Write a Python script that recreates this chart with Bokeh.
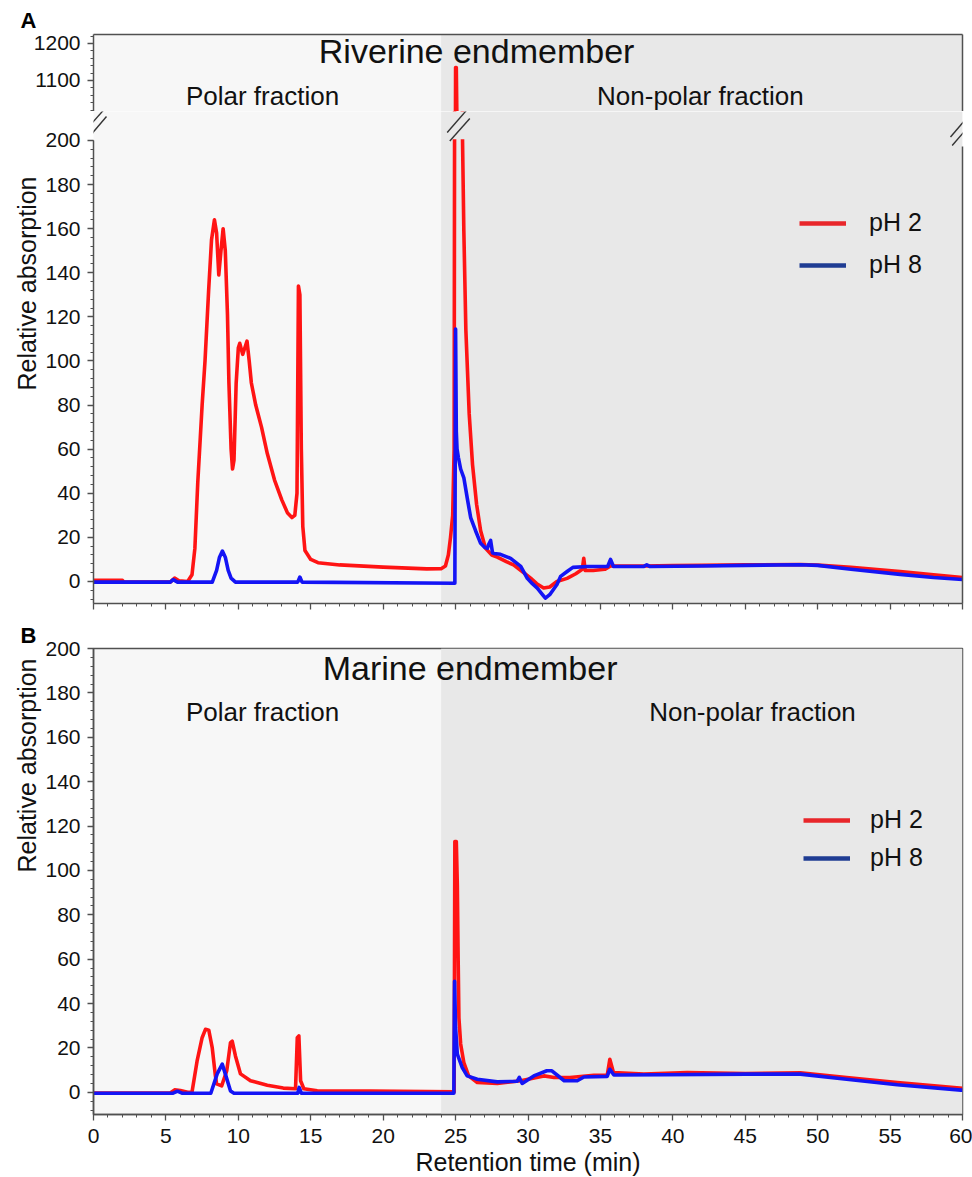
import math
from bokeh.plotting import figure
from bokeh.layouts import column
from bokeh.models import (Range1d, LinearAxis, SingleIntervalTicker, BoxAnnotation,
                          Label, Legend, LegendItem, Arrow, ColumnDataSource, Title)
from bokeh.embed import file_html
from bokeh.resources import INLINE

# ---------------- data ----------------
A_red_t = [0, 2.0, 2.1, 5.3, 5.6, 5.9, 6.5, 6.8, 7.0, 7.2, 7.5, 7.7, 7.95, 8.15, 8.35, 8.5, 8.65, 8.8,
           8.95, 9.1, 9.25, 9.35, 9.5, 9.6, 9.7, 9.85, 10.0, 10.1, 10.3, 10.45, 10.6, 10.75, 10.9, 11.2,
           11.6, 12.0, 12.5, 13.0, 13.4, 13.7, 13.9, 14.05, 14.15, 14.25, 14.35, 14.45, 14.6, 15.0, 15.5,
           17.0, 20.0, 23.0, 24.0, 24.3, 24.5, 24.65, 24.8, 24.9, 24.95, 25.0, 25.05, 25.12, 25.3, 25.48,
           25.57, 25.71, 25.94, 26.17, 26.45, 26.73, 27.07, 27.5, 27.88, 28.5, 29.0, 29.6, 30.18, 30.6,
           31.08, 31.5, 32.0, 32.7, 33.3, 33.75, 33.85, 33.95, 34.5, 35.3, 35.7, 36.0, 38, 40, 42, 45,
           48.8, 50, 52.3, 55.7, 58, 60]
A_red_y = [0.5, 0.5, -0.3, -0.3, 1.5, 0.3, 0, 3, 15, 45, 80, 100, 132, 155, 164, 158, 139, 150,
           160, 150, 121, 90, 60, 51, 55, 90, 106, 108, 103, 106, 109, 100, 90, 80,
           70, 58, 46, 37, 31, 29, 30, 40, 134, 130, 60, 25, 14, 10, 8.5,
           7.5, 6.5, 5.7, 5.8, 7, 12, 20, 30, 60, 300, 1135, 1135, 900, 400, 200,
           159, 114, 76, 53, 35, 23, 15, 12, 11, 9, 7.5, 4.5, 1.5, -1,
           -3, -2.5, 0, 1.4, 3.5, 5.5, 10.5, 5, 5, 5.5, 7, 7, 7, 7.2, 7.3, 7.5,
           7.7, 7.4, 6.4, 4.5, 3, 1.8]

A_blue_t = [0, 5.3, 5.5, 5.8, 8.2, 8.5, 8.7, 8.9, 9.1, 9.3, 9.5, 9.8, 14.1, 14.25, 14.4, 24.95, 25.0,
            25.05, 25.1, 25.2, 25.35, 25.57, 25.8, 26.04, 26.38, 26.73, 27.0, 27.19, 27.3, 27.42, 27.55,
            27.65, 28.1, 28.8, 29.5, 29.95, 30.3, 30.64, 31.0, 31.2, 31.5, 32.0, 32.25, 32.7, 33.1, 34.1,
            35.5, 35.7, 35.9, 38.0, 38.2, 38.4, 42, 45, 48.8, 50, 52.3, 55.7, 58, 60]
A_blue_y = [-0.3, -0.3, 0.8, -0.3, -0.3, 5, 11, 13.8, 11, 5, 1.5, -0.3, -0.3, 2, -0.3, -0.8, 114.5,
            68, 60, 56, 51, 47, 38, 29, 23, 17.3, 15.5, 15, 17, 18.6, 13,
            12.7, 12.3, 10.5, 6.8, 1.4, -1, -3, -6, -7.6, -6, -1.4, 2.3, 4.5, 6.4, 6.8,
            6.8, 10, 6.8, 6.8, 7.5, 6.8, 7, 7.3, 7.6, 7.3, 5.5, 3.2, 1.8, 0.9]

B_red_t = [0, 5.3, 5.6, 6.0, 6.5, 6.8, 7.15, 7.5, 7.73, 7.96, 8.2, 8.4, 8.5, 8.85, 9.2, 9.46, 9.58,
           9.8, 10.15, 10.84, 12.0, 13.1, 13.95, 14.07, 14.18, 14.3, 14.52, 15.45, 19.1, 24.9, 24.95,
           25.05, 25.12, 25.18, 25.23, 25.35, 25.57, 25.9, 26.5, 27.88, 29.5, 31.1, 31.8, 32.9, 34.55,
           35.47, 35.65, 35.9, 38, 41, 45, 48.8, 52.0, 55.5, 60]
B_red_y = [-0.3, -0.3, 1.1, 0.8, 0, 0, 14, 24.6, 28.4, 28, 20, 8.3, 3.8, 2.9, 9.7, 22.4, 23,
           16.4, 8.3, 5.2, 3.2, 1.9, 1.6, 24.6, 25.4, 5.2, 1.6, 0.7, 0.6, 0.2, 113,
           113, 93.6, 59, 33.6, 21.8, 13.4, 7.4, 4.4, 4, 5.2, 7.4, 6.7, 6.7, 7.7,
           7.7, 14.9, 8.9, 8.2, 8.9, 8.4, 8.8, 6.6, 4.4, 1.8]

B_blue_t = [0, 5.5, 5.8, 6.1, 8.1, 8.54, 8.89, 9.1, 9.46, 9.7, 14.1, 14.2, 14.35, 24.88, 24.93, 25.0,
            25.12, 25.46, 25.8, 26.5, 27.88, 29.26, 29.4, 29.6, 30.4, 31.3, 31.65, 32.5, 33.4, 33.86,
            35.47, 35.65, 35.93, 39.4, 45.1, 48.8, 52.0, 55.5, 59.9, 60]
B_blue_y = [-0.4, -0.4, 0.5, -0.4, -0.4, 8.3, 12.7, 8.3, 0.6, -0.4, -0.4, 2.2, -0.4, -0.4, 50, 29,
            17.2, 11.1, 7.4, 5.9, 4.7, 5, 6.7, 4, 7.4, 9.7, 9.7, 5.2, 5.2, 6.9,
            7.2, 10.4, 7.8, 7.9, 8.2, 8.2, 5.9, 3.4, 1.0, 1.0]

series_labels = ["pH 2", "pH 8"]
fraction_labels = ["Polar fraction", "Non-polar fraction"]
panel_titles = ["Riverine endmember", "Marine endmember"]
panel_letters = ["A", "B"]
x_title = "Retention time (min)"
y_title = "Relative absorption"
FRACTION_SPLIT = 24.0

# ---------------- style ----------------
FONT = "Liberation Sans"
AXC = "#505050"
TXT = "#111111"
RED = "#ff1414"
BLUE = "#1414f5"
LEG_RED = "#e8262a"
LEG_BLUE = "#1f3c93"
LEFT_SHADE = "#f7f7f7"
RIGHT_SHADE = "#e8e8e8"
LW = 3.6
NAN = float("nan")


def style_axis(ax, labels=True, ticks=True):
    ax.axis_line_color = AXC
    ax.axis_line_width = 1.5
    ax.major_tick_line_color = AXC if ticks else None
    ax.minor_tick_line_color = AXC if ticks else None
    ax.major_tick_line_width = 1.3
    ax.minor_tick_line_width = 1.0
    ax.major_tick_in = 0
    ax.major_tick_out = 6 if ticks else 0
    ax.minor_tick_in = 0
    ax.minor_tick_out = 3 if ticks else 0
    ax.major_label_text_font = FONT
    if labels:
        ax.major_label_text_font_size = "21px"
        ax.major_label_text_color = TXT
    else:
        ax.major_label_text_font_size = "0px"
        ax.major_label_text_color = None
        ax.major_label_standoff = 0


def base_fig(height, yr, top_border, bottom_border, outline=None):
    p = figure(width=972, height=height, x_range=xr, y_range=yr,
               output_backend="svg", toolbar_location=None, x_axis_location=None,
               y_axis_location=None,
               min_border_left=93, min_border_right=10, min_border_top=top_border,
               min_border_bottom=bottom_border,
               background_fill_color=LEFT_SHADE, border_fill_color="white",
               outline_line_color=outline, outline_line_width=1.5)
    p.xgrid.grid_line_color = None
    p.ygrid.grid_line_color = None
    p.add_layout(BoxAnnotation(left=FRACTION_SPLIT, fill_color=RIGHT_SHADE, fill_alpha=1.0,
                               line_color=None, level="underlay"))
    return p


def add_axis(p, side, ticker=None, bounds=None, labels=True, ticks=True, standoff=7):
    ax = LinearAxis()
    if ticker is not None:
        ax.ticker = ticker
    if bounds is not None:
        ax.bounds = bounds
    style_axis(ax, labels, ticks)
    if labels:
        ax.major_label_standoff = standoff
    p.add_layout(ax, side)
    return ax


def text(p, x, y, t, size):
    p.add_layout(Label(x=x, y=y, text=t, text_font=FONT, text_font_size=size,
                       text_color=TXT, text_align="center", text_baseline="middle"))


def letter(p, t, standoff):
    p.add_layout(Title(text=t, align="left", offset=-73, standoff=standoff,
                       text_font=FONT, text_font_size="22px", text_font_style="bold",
                       text_color="#000000"), "above")


def ytitle(p, offset):
    p.add_layout(Title(text=y_title, align="right", offset=offset, standoff=4,
                       text_font=FONT, text_font_size="25px", text_font_style="normal",
                       text_color=TXT), "left")


def slash(p, x0, y0, x1, y1):
    p.add_layout(Arrow(end=None, x_start=x0, y_start=y0, x_end=x1, y_end=y1,
                       start_units="screen", end_units="screen",
                       line_color="#333333", line_width=1.4))


def plot_lines(p, rt, ry, bt, by):
    p.line(x="t", y="v", source=ColumnDataSource(dict(t=rt, v=ry)), line_color=RED,
           line_width=LW, line_join="round")
    p.line(x="t", y="v", source=ColumnDataSource(dict(t=bt, v=by)), line_color=BLUE,
           line_width=LW, line_join="round")


def add_legend(p, loc, spacing, standoff):
    r1 = p.line(x=[NAN], y=[NAN], line_color=LEG_RED, line_width=4.5)
    r2 = p.line(x=[NAN], y=[NAN], line_color=LEG_BLUE, line_width=4.5)
    lg = Legend(items=[LegendItem(label=series_labels[0], renderers=[r1]),
                       LegendItem(label=series_labels[1], renderers=[r2])],
                location=loc, glyph_width=47, glyph_height=20, label_height=20,
                label_standoff=standoff, spacing=spacing, padding=0, margin=0,
                border_line_color=None, background_fill_alpha=0,
                label_text_font=FONT, label_text_font_size="25px", label_text_color=TXT)
    p.add_layout(lg)


xr = Range1d(0, 60)

# ---------- Panel A, upper (broken) segment ----------
top = base_fig(111, Range1d(1016.2, 1224.3), 34, 0)
add_axis(top, "left", SingleIntervalTicker(interval=100, num_minor_ticks=5))
add_axis(top, "right", labels=False, ticks=False)
add_axis(top, "above", labels=False, ticks=False)
letter(top, panel_letters[0], 3)
plot_lines(top, A_red_t, A_red_y, A_blue_t, A_blue_y)
text(top, 26.45, 1181, panel_titles[0], "34px")
text(top, 11.67, 1059, fraction_labels[0], "26px")
text(top, 41.9, 1059, fraction_labels[1], "26px")

# ---------- Panel A, lower segment ----------
lowA = base_fig(508, Range1d(-10, 213.15), 0, 16)
add_axis(lowA, "below", SingleIntervalTicker(interval=5, num_minor_ticks=5), labels=False)
add_axis(lowA, "left", SingleIntervalTicker(interval=20, num_minor_ticks=5), bounds=(-10, 200))
add_axis(lowA, "right", bounds=(-10, 197.5), labels=False, ticks=False)
ytitle(lowA, 65)
plot_lines(lowA, A_red_t, A_red_y, A_blue_t, A_blue_y)
lowA.add_layout(BoxAnnotation(left=24.7, right=25.65, bottom=200.6,
                              fill_color=RIGHT_SHADE, fill_alpha=1.0, line_color=None))
for (a, b, c, d) in [(-9.7, 471, 11, 494.5), (-7, 463.5, 13, 487),
                     (353.7, 471, 373.7, 494), (356.3, 462.5, 376.3, 485),
                     (857, 466.5, 877, 490), (858.7, 458, 877.7, 480)]:
    slash(lowA, a, b, c, d)
add_legend(lowA, (706, 324), 13, 23)

# ---------- Panel B ----------
pb = base_fig(564, Range1d(-10, 200), 28, 69, outline=AXC)
xb = add_axis(pb, "below", SingleIntervalTicker(interval=5, num_minor_ticks=5), standoff=8)
xb.axis_label = x_title
xb.axis_label_standoff = 2
xb.axis_label_text_font = FONT
xb.axis_label_text_font_size = "25px"
xb.axis_label_text_font_style = "normal"
xb.axis_label_text_color = TXT
add_axis(pb, "left", SingleIntervalTicker(interval=20, num_minor_ticks=5))
letter(pb, panel_letters[1], 2)
ytitle(pb, 10)
plot_lines(pb, B_red_t, B_red_y, B_blue_t, B_blue_y)
add_legend(pb, (710, 242), 9, 20)
text(pb, 26.0, 191, panel_titles[1], "34px")
text(pb, 11.67, 171.5, fraction_labels[0], "26px")
text(pb, 45.5, 171.5, fraction_labels[1], "26px")

layout = column(top, lowA, pb, spacing=0)
open("out.html", "w").write(file_html(layout, INLINE))
